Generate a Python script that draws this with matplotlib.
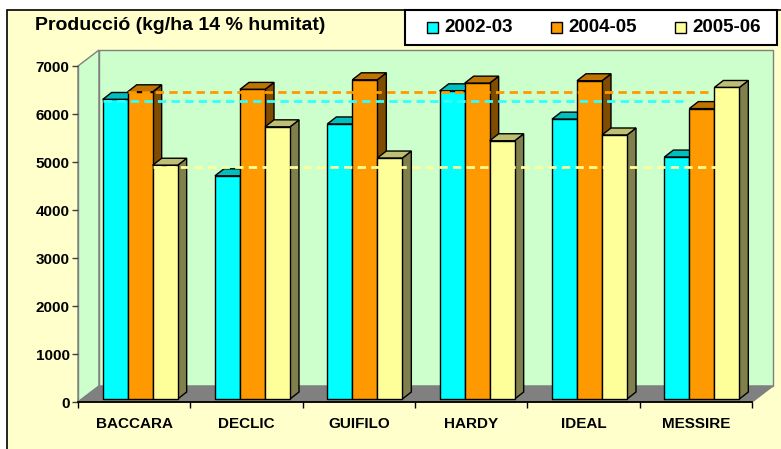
import matplotlib
matplotlib.use("Agg")
import matplotlib.pyplot as plt
from matplotlib.patches import Rectangle, Polygon

# data (kg/ha)
varieties = ["BACCARA", "DECLIC", "GUIFILO", "HARDY", "IDEAL", "MESSIRE"]
seasons = ["2002-03", "2004-05", "2005-06"]
yield_0203 = [6240, 4650, 5730, 6420, 5830, 5040]
yield_0405 = [6400, 6450, 6650, 6580, 6630, 6050]
yield_0506 = [4870, 5670, 5020, 5380, 5500, 6490]
# reference levels (control variety BACCARA) drawn as dashed lines
reference = [6220, 6420, 4850]
yticks = [0, 1000, 2000, 3000, 4000, 5000, 6000, 7000]

series = [yield_0203, yield_0405, yield_0506]
face = ["#00FFFF", "#FF9900", "#FFFF99"]
top_c = ["#00BFBF", "#BF7300", "#BFBF73"]
side_c = ["#008080", "#804D00", "#80804D"]
line_c = ["#33FFFF", "#FF9900", "#FFFF99"]

plt.rcParams["font.family"] = ["Liberation Sans", "DejaVu Sans"]
plt.rcParams["font.weight"] = "bold"

W, H = 781, 449
fig = plt.figure(figsize=(W / 100, H / 100), dpi=100)
fig.patch.set_facecolor("white")

# chart area background
fig.patches.append(Rectangle((7 / W, -0.1), 1.0, 1 - 10 / H + 0.1,
                             transform=fig.transFigure, facecolor="#FFFFCC",
                             edgecolor="black", linewidth=1.2, zorder=-10))

ax = fig.add_axes([78 / W, 47 / H, 674 / W, 336 / H])
ax.set_xlim(-0.5, 5.5)
ax.set_ylim(0, 7000)
ax.patch.set_visible(False)

# pixel -> data conversion
p0 = ax.transData.transform((0, 0))
p1 = ax.transData.transform((1, 1000))
ppx = p1[0] - p0[0]
ppy = (p1[1] - p0[1]) / 1000.0


def px(dx, dy):
    return dx / ppx, dy / ppy


# walls and floor
wx, wy = px(21, 16)
ymax = 7000
ax.add_patch(Polygon([(-0.5, 0), (-0.5 + wx, wy), (-0.5 + wx, ymax + wy), (-0.5, ymax)],
                     facecolor="#CCFFCC", edgecolor="#808080", lw=1, zorder=0, clip_on=False))
ax.add_patch(Polygon([(-0.5 + wx, wy), (5.5 + wx, wy), (5.5 + wx, ymax + wy), (-0.5 + wx, ymax + wy)],
                     facecolor="#CCFFCC", edgecolor="#808080", lw=1, zorder=0, clip_on=False))
ax.add_patch(Polygon([(-0.5, 0), (5.5, 0), (5.5 + wx, wy), (-0.5 + wx, wy)],
                     facecolor="#808080", edgecolor="#808080", lw=1, zorder=1, clip_on=False))

# 3d bars
bw = 25 / ppx
ox, oy = px(6, 3)
dx, dy = px(9, 7)
for i in range(len(varieties)):
    for j, vals in enumerate(series):
        v = vals[i]
        x0 = i - 1.5 * bw + j * bw + ox
        y0 = oy
        kw = dict(edgecolor="black", lw=1.0, joinstyle="miter", zorder=2, clip_on=False)
        ax.add_patch(Polygon([(x0 + bw, y0), (x0 + bw + dx, y0 + dy),
                              (x0 + bw + dx, y0 + v + dy), (x0 + bw, y0 + v)],
                             facecolor=side_c[j], **kw))
        ax.add_patch(Polygon([(x0, y0 + v), (x0 + bw, y0 + v),
                              (x0 + bw + dx, y0 + v + dy), (x0 + dx, y0 + v + dy)],
                             facecolor=top_c[j], **kw))
        ax.add_patch(Rectangle((x0, y0), bw, v, facecolor=face[j], **kw))

# dashed reference lines
lx, ly = px(3, 2)
for j, ref in enumerate(reference):
    xs = 0 - 1.5 * bw + j * bw + ox
    xe = 5 - 1.5 * bw + (j + 1) * bw + ox - lx
    ax.plot([xs, xe], [ref + ly, ref + ly], color=line_c[j], lw=2.0,
            dashes=(3.0, 1.9), zorder=3, clip_on=False)

# axes
for s in ["top", "right"]:
    ax.spines[s].set_visible(False)
ax.spines["left"].set_color("#808080")
ax.spines["left"].set_linewidth(1.0)
ax.spines["left"].set_zorder(1.5)
ax.spines["bottom"].set_color("black")
ax.spines["bottom"].set_linewidth(1.3)
ax.spines["bottom"].set_zorder(4)

ax.set_yticks(yticks)
ax.set_yticklabels([str(t) for t in yticks], fontsize=11, fontweight="bold")
ax.tick_params(axis="y", length=4, width=1, color="#404040", pad=2)

ax.set_xticks(range(len(varieties)))
ax.set_xticklabels(varieties, fontsize=11, fontweight="bold")
ax.set_xticks([k - 0.5 for k in range(len(varieties) + 1)], minor=True)
ax.tick_params(axis="x", which="major", length=0, pad=11)
ax.tick_params(axis="x", which="minor", length=4, width=1, color="black")

# title
fig.text(35 / W, 1 - 25 / H, "Producció (kg/ha 14 % humitat)", fontsize=14,
         fontweight="bold", ha="left", va="center")

# legend box and entries (drawn by hand for exact placement)
fig.patches.append(Rectangle((405 / W, 1 - 45 / H), 372 / W, 35 / H,
                             transform=fig.transFigure, facecolor="white",
                             edgecolor="black", linewidth=1.5, zorder=5))
for j, label in enumerate(seasons):
    sx = 427 + 124 * j
    fig.patches.append(Rectangle((sx / W, 1 - 33 / H), 11 / W, 11 / H,
                                 transform=fig.transFigure, facecolor=face[j],
                                 edgecolor="black", linewidth=1.0, zorder=6))
    fig.text((sx + 17) / W, 1 - 27.5 / H, label, fontsize=13.5, fontweight="bold",
             ha="left", va="center", zorder=6)

fig.savefig("out.png", dpi=100)
